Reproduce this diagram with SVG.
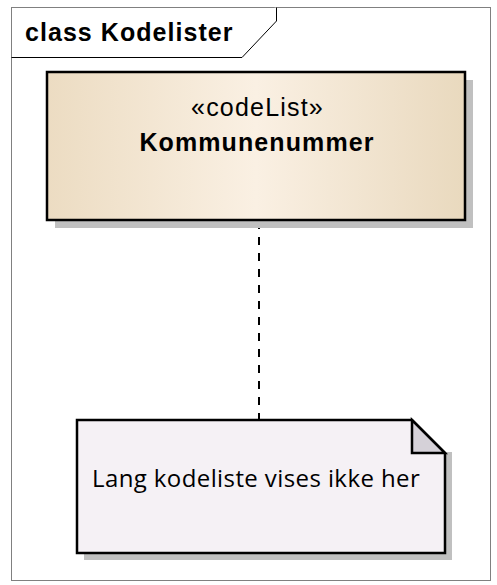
<svg xmlns="http://www.w3.org/2000/svg" width="497" height="585" viewBox="0 0 497 585">
<defs>
<linearGradient id="cls" x1="0" y1="0" x2="1" y2="0">
<stop offset="0" stop-color="#ecdcc2"/>
<stop offset="0.5" stop-color="#faf0e3"/>
<stop offset="1" stop-color="#e9d9be"/>
</linearGradient>
<style>
.frame{fill:#ffffff;stroke:#808080;stroke-width:1}
.tab{fill:#ffffff;stroke:#000000;stroke-width:1}
.title{font-family:"Liberation Sans",Arial,sans-serif;font-weight:bold;font-size:25px;letter-spacing:1.05px;fill:#000}
.shadow{fill:#c0c0c0}
.box{stroke:#000;stroke-width:2.5}
.stereo{font-family:"Liberation Sans",Arial,sans-serif;font-size:25px;letter-spacing:1.2px;fill:#000;text-anchor:middle}
.name{font-family:"Liberation Sans",Arial,sans-serif;font-weight:bold;font-size:25px;letter-spacing:1.1px;fill:#000;text-anchor:middle}
.note{fill:#f5f1f5;stroke:#000;stroke-width:2.5}
.fold{fill:#d5d1d8;stroke:#000;stroke-width:2.5;stroke-linejoin:miter}
.notetext{font-family:"Open Sans","Noto Sans",sans-serif;font-size:24px;letter-spacing:0.4px;fill:#000}
.conn{stroke:#000;stroke-width:2;stroke-dasharray:8,8;fill:none}
</style>
</defs>
<g id="frame">
<rect class="frame" x="11.5" y="7.5" width="479" height="573"/>
<path class="tab" d="M11.5,57.5 H242 L276.5,21 V7.5"/>
<text class="title" x="25" y="41">class Kodelister</text>
</g>
<g id="connectors">
<line class="conn" x1="259" y1="221" x2="259" y2="420"/>
</g>
<g id="Kommunenummer">
<rect class="shadow" x="55" y="80" width="418" height="148"/>
<rect class="box" fill="url(#cls)" x="47" y="72" width="418" height="148"/>
<text class="stereo" x="257.5" y="116">«codeList»</text>
<text class="name" x="257" y="151">Kommunenummer</text>
</g>
<g id="note">
<rect class="shadow" x="84" y="452" width="368" height="108"/>
<path class="note" d="M77,420 H412 L445,453 V553 H77 Z"/>
<path class="fold" d="M412,420 V453 H445 Z"/>
<text class="notetext" x="92" y="487">Lang kodeliste vises ikke her</text>
</g>
</svg>
